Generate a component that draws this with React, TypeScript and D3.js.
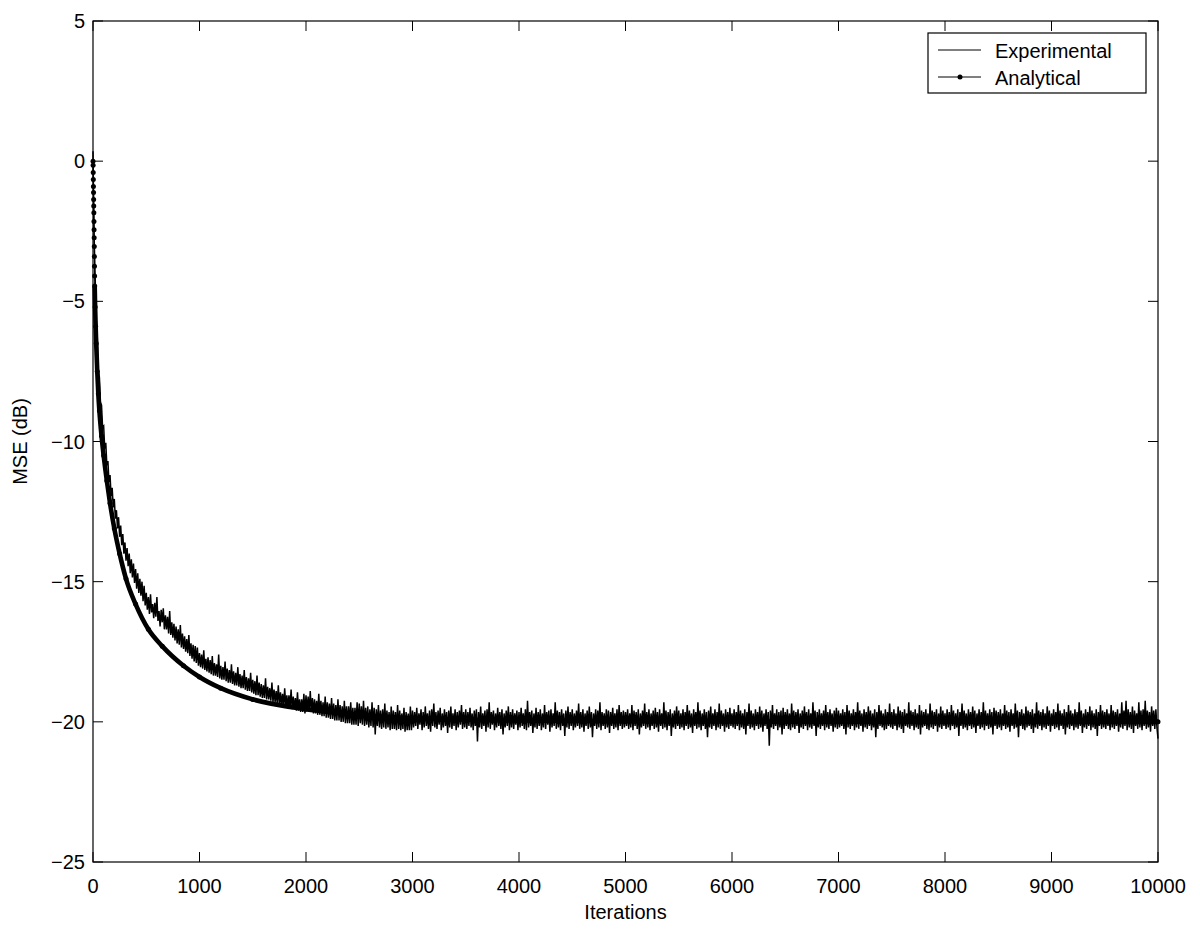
import React from 'react';
import * as d3 from 'd3';

const X_TICKS = [0, 1000, 2000, 3000, 4000, 5000, 6000, 7000, 8000, 9000, 10000];
const Y_TICKS = [5, 0, -5, -10, -15, -20, -25];
const MAX_ITER = 10000;

// Experimental MSE (dB), one value every 10 iterations (0 .. 10000), 50 values per row
const experimentalDb = [
  0.35, -2.60, -4.10, -5.65, -6.30, -7.50, -7.70, -8.60, -8.70, -9.50, -9.45, -10.25, -10.05, -10.85, -10.70, -11.45, -11.20, -11.95, -11.65, -12.35, -12.05, -12.75, -12.45, -13.10, -12.70, -13.40, -13.00, -13.70, -13.30, -14.00, -13.60, -14.25, -13.80, -14.45, -14.00, -14.70, -14.20, -14.85, -14.35, -15.05, -14.55, -15.25, -14.70, -15.40, -14.90, -15.50, -15.00, -15.70, -15.15, -15.85,
  -15.40, -16.00, -15.55, -16.15, -15.45, -16.10, -15.80, -16.30, -15.75, -16.25, -15.55, -16.40, -16.05, -16.60, -16.00, -16.45, -15.95, -16.70, -16.20, -16.70, -16.25, -16.85, -16.05, -16.90, -16.45, -17.00, -16.50, -17.10, -16.60, -17.20, -16.70, -17.25, -16.55, -17.35, -16.85, -17.40, -16.95, -17.50, -17.05, -17.55, -16.90, -17.65, -17.20, -17.75, -17.25, -17.85, -17.30, -17.90, -17.35, -18.00,
  -17.55, -18.05, -17.60, -18.10, -17.45, -18.15, -17.75, -18.20, -17.70, -18.25, -17.80, -18.30, -17.65, -18.35, -17.90, -18.35, -17.95, -18.40, -17.60, -18.45, -18.00, -18.50, -18.05, -18.50, -17.85, -18.55, -18.10, -18.60, -18.15, -18.60, -17.95, -18.65, -18.20, -18.70, -18.25, -18.70, -18.05, -18.75, -18.30, -18.80, -18.35, -18.80, -18.15, -18.85, -18.40, -18.90, -18.45, -18.90, -18.25, -18.95,
  -18.50, -19.00, -18.55, -19.05, -18.35, -19.05, -18.60, -19.10, -18.65, -19.15, -18.70, -19.15, -18.45, -19.20, -18.75, -19.20, -18.80, -19.25, -18.60, -19.30, -18.85, -19.30, -18.90, -19.35, -18.70, -19.40, -18.95, -19.40, -19.00, -19.45, -18.80, -19.45, -19.05, -19.50, -19.05, -19.50, -18.85, -19.55, -19.10, -19.55, -19.15, -19.60, -18.95, -19.60, -19.20, -19.65, -19.20, -19.65, -19.00, -19.70,
  -19.05, -19.60, -19.10, -19.65, -18.90, -19.65, -19.15, -19.70, -19.20, -19.70, -19.25, -19.75, -19.00, -19.75, -19.25, -19.80, -19.30, -19.80, -19.10, -19.85, -19.30, -19.85, -19.35, -19.90, -19.15, -19.90, -19.35, -19.95, -19.40, -19.95, -19.20, -19.95, -19.40, -20.00, -19.45, -20.00, -19.25, -20.05, -19.45, -20.05, -19.45, -20.05, -19.30, -20.10, -19.50, -20.10, -19.50, -20.10, -19.30, -20.15,
  -19.35, -20.05, -19.45, -20.10, -19.25, -20.15, -19.50, -20.10, -19.45, -20.20, -19.55, -20.15, -19.30, -20.20, -19.50, -20.45, -19.55, -20.15, -19.40, -20.20, -19.60, -20.25, -19.55, -20.20, -19.35, -20.25, -19.60, -20.20, -19.65, -20.30, -19.45, -20.25, -19.60, -20.25, -19.65, -20.30, -19.40, -20.25, -19.60, -20.30, -19.70, -20.25, -19.50, -20.35, -19.65, -20.30, -19.70, -20.30, -19.45, -20.30,
  -19.60, -20.20, -19.65, -20.15, -19.50, -20.25, -19.70, -20.10, -19.55, -20.30, -19.65, -20.20, -19.45, -20.15, -19.70, -20.25, -19.60, -20.35, -19.55, -20.15, -19.35, -20.20, -19.65, -20.25, -19.60, -20.10, -19.50, -20.30, -19.70, -20.20, -19.55, -20.15, -19.65, -20.40, -19.60, -20.20, -19.45, -20.25, -19.70, -20.15, -19.55, -20.30, -19.65, -20.20, -19.60, -20.10, -19.40, -20.25, -19.65, -20.20,
  -19.55, -20.25, -19.65, -20.15, -19.50, -20.20, -19.70, -20.30, -19.60, -20.15, -19.55, -20.70, -19.65, -20.20, -19.45, -20.25, -19.70, -20.15, -19.60, -20.35, -19.55, -20.20, -19.30, -20.25, -19.65, -20.10, -19.60, -20.30, -19.70, -20.20, -19.50, -20.15, -19.65, -20.25, -19.55, -20.45, -19.70, -20.20, -19.60, -20.15, -19.45, -20.30, -19.65, -20.20, -19.55, -20.25, -19.70, -20.10, -19.60, -20.30,
  -19.65, -20.20, -19.50, -20.15, -19.70, -20.25, -19.55, -20.30, -19.25, -20.20, -19.65, -20.15, -19.60, -20.40, -19.70, -20.20, -19.50, -20.25, -19.65, -20.15, -19.55, -20.30, -19.70, -20.20, -19.40, -20.25, -19.65, -20.10, -19.60, -20.35, -19.55, -20.20, -19.70, -20.15, -19.30, -20.25, -19.60, -20.20, -19.65, -20.30, -19.55, -20.15, -19.70, -20.50, -19.60, -20.20, -19.45, -20.25, -19.65, -20.15,
  -19.55, -20.30, -19.70, -20.20, -19.60, -20.15, -19.35, -20.25, -19.65, -20.20, -19.55, -20.35, -19.70, -20.15, -19.60, -20.25, -19.45, -20.20, -19.65, -20.55, -19.70, -20.15, -19.55, -20.25, -19.60, -20.20, -19.30, -20.30, -19.65, -20.15, -19.70, -20.25, -19.55, -20.20, -19.60, -20.40, -19.65, -20.15, -19.50, -20.25, -19.70, -20.20, -19.55, -20.30, -19.40, -20.15, -19.65, -20.25, -19.60, -20.20,
  -19.65, -20.15, -19.55, -20.25, -19.70, -20.20, -19.40, -20.30, -19.60, -20.15, -19.65, -20.25, -19.55, -20.45, -19.70, -20.20, -19.60, -20.15, -19.35, -20.25, -19.65, -20.20, -19.55, -20.30, -19.70, -20.15, -19.60, -20.25, -19.50, -20.20, -19.65, -20.35, -19.55, -20.15, -19.70, -20.25, -19.30, -20.20, -19.60, -20.30, -19.65, -20.15, -19.55, -20.50, -19.70, -20.20, -19.60, -20.25, -19.45, -20.15,
  -19.60, -20.25, -19.70, -20.20, -19.55, -20.30, -19.65, -20.15, -19.40, -20.25, -19.60, -20.20, -19.70, -20.40, -19.55, -20.15, -19.65, -20.25, -19.30, -20.20, -19.60, -20.30, -19.70, -20.15, -19.55, -20.25, -19.65, -20.55, -19.60, -20.20, -19.45, -20.25, -19.70, -20.15, -19.55, -20.30, -19.65, -20.20, -19.35, -20.25, -19.60, -20.15, -19.70, -20.35, -19.55, -20.20, -19.65, -20.25, -19.50, -20.15,
  -19.70, -20.20, -19.55, -20.25, -19.65, -20.15, -19.40, -20.30, -19.60, -20.20, -19.70, -20.25, -19.55, -20.45, -19.65, -20.15, -19.35, -20.25, -19.60, -20.20, -19.70, -20.30, -19.55, -20.15, -19.65, -20.25, -19.45, -20.20, -19.60, -20.35, -19.70, -20.15, -19.55, -20.25, -19.65, -20.85, -19.60, -20.20, -19.40, -20.25, -19.70, -20.15, -19.55, -20.30, -19.65, -20.20, -19.60, -20.45, -19.50, -20.25,
  -19.65, -20.15, -19.55, -20.25, -19.70, -20.30, -19.35, -20.20, -19.60, -20.25, -19.65, -20.15, -19.55, -20.40, -19.70, -20.20, -19.60, -20.25, -19.45, -20.15, -19.65, -20.30, -19.55, -20.20, -19.70, -20.25, -19.30, -20.15, -19.60, -20.50, -19.65, -20.20, -19.55, -20.25, -19.70, -20.15, -19.60, -20.30, -19.40, -20.20, -19.65, -20.25, -19.55, -20.15, -19.70, -20.35, -19.60, -20.20, -19.50, -20.25,
  -19.60, -20.20, -19.70, -20.15, -19.55, -20.25, -19.65, -20.45, -19.40, -20.20, -19.60, -20.25, -19.70, -20.15, -19.55, -20.30, -19.65, -20.20, -19.30, -20.25, -19.60, -20.15, -19.70, -20.35, -19.55, -20.20, -19.65, -20.25, -19.45, -20.15, -19.60, -20.30, -19.70, -20.20, -19.55, -20.55, -19.65, -20.25, -19.40, -20.15, -19.60, -20.20, -19.70, -20.30, -19.55, -20.25, -19.65, -20.15, -19.35, -20.20,
  -19.65, -20.25, -19.55, -20.15, -19.70, -20.30, -19.45, -20.20, -19.60, -20.25, -19.65, -20.40, -19.55, -20.15, -19.70, -20.20, -19.30, -20.25, -19.60, -20.15, -19.65, -20.30, -19.55, -20.20, -19.70, -20.25, -19.40, -20.45, -19.60, -20.20, -19.65, -20.15, -19.55, -20.25, -19.70, -20.30, -19.35, -20.20, -19.60, -20.25, -19.65, -20.15, -19.55, -20.35, -19.70, -20.20, -19.45, -20.25, -19.60, -20.15,
  -19.70, -20.25, -19.55, -20.20, -19.65, -20.30, -19.40, -20.15, -19.60, -20.25, -19.70, -20.20, -19.55, -20.50, -19.65, -20.15, -19.35, -20.25, -19.60, -20.20, -19.70, -20.30, -19.55, -20.15, -19.65, -20.25, -19.45, -20.20, -19.60, -20.40, -19.70, -20.15, -19.55, -20.25, -19.65, -20.20, -19.30, -20.30, -19.60, -20.15, -19.70, -20.25, -19.55, -20.20, -19.65, -20.45, -19.50, -20.15, -19.60, -20.25,
  -19.65, -20.20, -19.55, -20.30, -19.70, -20.15, -19.40, -20.25, -19.60, -20.20, -19.65, -20.35, -19.55, -20.15, -19.70, -20.25, -19.35, -20.20, -19.60, -20.55, -19.65, -20.15, -19.55, -20.25, -19.70, -20.30, -19.45, -20.20, -19.60, -20.15, -19.65, -20.25, -19.55, -20.40, -19.70, -20.20, -19.30, -20.25, -19.60, -20.15, -19.65, -20.30, -19.55, -20.20, -19.70, -20.25, -19.45, -20.15, -19.60, -20.35,
  -19.70, -20.15, -19.55, -20.25, -19.65, -20.20, -19.35, -20.30, -19.60, -20.15, -19.70, -20.25, -19.55, -20.45, -19.65, -20.20, -19.40, -20.25, -19.60, -20.15, -19.70, -20.30, -19.55, -20.20, -19.65, -20.25, -19.30, -20.15, -19.60, -20.40, -19.70, -20.20, -19.55, -20.25, -19.65, -20.15, -19.45, -20.30, -19.60, -20.20, -19.70, -20.25, -19.55, -20.50, -19.65, -20.15, -19.40, -20.25, -19.60, -20.20,
  -19.65, -20.25, -19.55, -20.15, -19.70, -20.30, -19.40, -20.20, -19.60, -20.25, -19.65, -20.15, -19.55, -20.35, -19.70, -20.20, -19.30, -20.25, -19.60, -20.15, -19.25, -20.30, -19.55, -20.20, -19.65, -20.25, -19.45, -20.40, -19.60, -20.15, -19.70, -20.25, -19.30, -20.20, -19.60, -20.30, -19.55, -20.15, -19.25, -20.25, -19.60, -20.20, -19.65, -20.35, -19.45, -20.15, -19.60, -20.25, -19.55, -20.20,
  -20.60,
];

// Analytical MSE (dB)
const analyticalIter = [0, 1, 2, 3, 4, 5, 6, 7, 8, 9, 10, 11, 12, 13, 14, 15, 16, 20, 25, 30, 40, 50, 60, 80, 100, 130, 160, 200, 250, 310, 400, 520, 650, 850, 1000, 1200, 1500, 2000, 2500, 3000, 4000, 5000, 6000, 8000, 10000];
const analyticalDb = [0, -0.15, -0.4, -0.65, -0.9, -1.12, -1.37, -1.6, -1.84, -2.15, -2.45, -2.73, -3.04, -3.4, -3.75, -4.1, -4.45, -5.2, -5.9, -6.5, -7.5, -8.3, -8.9, -9.8, -10.5, -11.4, -12.2, -13.1, -14.0, -14.9, -15.8, -16.7, -17.3, -18.0, -18.4, -18.8, -19.2, -19.55, -19.75, -19.87, -19.95, -19.98, -19.99, -20.0, -20.0];

const LEGEND = ['Experimental', 'Analytical'];
const FONT = '"Liberation Sans", Arial, Helvetica, sans-serif';

export default function App() {
  const W = 1200;
  const H = 930;
  const x = d3.scaleLinear().domain([0, MAX_ITER]).range([93, 1158]);
  const y = d3.scaleLinear().domain([-25, 5]).range([862, 21]);
  const [x0, x1] = x.range();
  const [yb, yt] = y.range();
  const tick = 10;
  const n = experimentalDb.length;

  const expLine = d3
    .line<number>()
    .x((_, i) => x((i / (n - 1)) * MAX_ITER))
    .y((d) => y(d));

  const anaPts: [number, number][] = analyticalIter.map((t, i) => [t, analyticalDb[i]]);
  const anaLine = d3
    .line<[number, number]>()
    .x((d) => x(d[0]))
    .y((d) => y(d[1]))
    .curve(d3.curveMonotoneX);
  const thickPts = anaPts.filter((d) => d[0] >= 16);

  const fmt = (v: number) => (v < 0 ? '\u2212' + Math.abs(v) : String(v));

  return (
    <svg
      width={W}
      height={H}
      style={{ position: 'absolute', left: 0, top: 0, background: '#fff' }}
      fontFamily={FONT}
    >
      <rect x={0} y={0} width={W} height={H} fill="#fff" />
      {/* data */}
      <path d={anaLine(anaPts) || ''} fill="none" stroke="#000" strokeWidth={1} />
      <path d={anaLine(thickPts) || ''} fill="none" stroke="#000" strokeWidth={4.6} strokeLinejoin="round" />
      {anaPts.map((d, i) => (
        <circle key={i} cx={x(d[0])} cy={y(d[1])} r={2.5} fill="#000" />
      ))}
      <path d={expLine(experimentalDb) || ''} fill="none" stroke="#000" strokeWidth={1.5} />

      {/* axes box */}
      <rect x={x0} y={yt} width={x1 - x0} height={yb - yt} fill="none" stroke="#000" strokeWidth={1.2} />
      {X_TICKS.map((t) => (
        <g key={'x' + t}>
          <line x1={x(t)} x2={x(t)} y1={yb} y2={yb - tick} stroke="#000" strokeWidth={1} />
          <line x1={x(t)} x2={x(t)} y1={yt} y2={yt + tick} stroke="#000" strokeWidth={1} />
          <text x={x(t)} y={yb + 31} textAnchor="middle" fontSize={20} fill="#000">
            {t}
          </text>
        </g>
      ))}
      {Y_TICKS.map((t) => (
        <g key={'y' + t}>
          <line x1={x0} x2={x0 + tick} y1={y(t)} y2={y(t)} stroke="#000" strokeWidth={1} />
          <line x1={x1} x2={x1 - tick} y1={y(t)} y2={y(t)} stroke="#000" strokeWidth={1} />
          <text x={x0 - 8} y={y(t) + 7} textAnchor="end" fontSize={20} fill="#000">
            {fmt(t)}
          </text>
        </g>
      ))}
      <text x={(x0 + x1) / 2} y={919} textAnchor="middle" fontSize={20} fill="#000">
        Iterations
      </text>
      <text
        transform={`translate(27, ${(yt + yb) / 2}) rotate(-90)`}
        textAnchor="middle"
        fontSize={20}
        fill="#000"
      >
        MSE (dB)
      </text>

      {/* legend */}
      <rect x={928} y={33} width={218} height={60} fill="#fff" stroke="#000" strokeWidth={1.2} />
      <line x1={938} x2={981} y1={50} y2={50} stroke="#000" strokeWidth={1} />
      <line x1={938} x2={981} y1={77} y2={77} stroke="#000" strokeWidth={1} />
      <circle cx={960} cy={77} r={2.5} fill="#000" />
      <text x={995} y={58} fontSize={20} fill="#000">
        {LEGEND[0]}
      </text>
      <text x={995} y={85} fontSize={20} fill="#000">
        {LEGEND[1]}
      </text>
    </svg>
  );
}
